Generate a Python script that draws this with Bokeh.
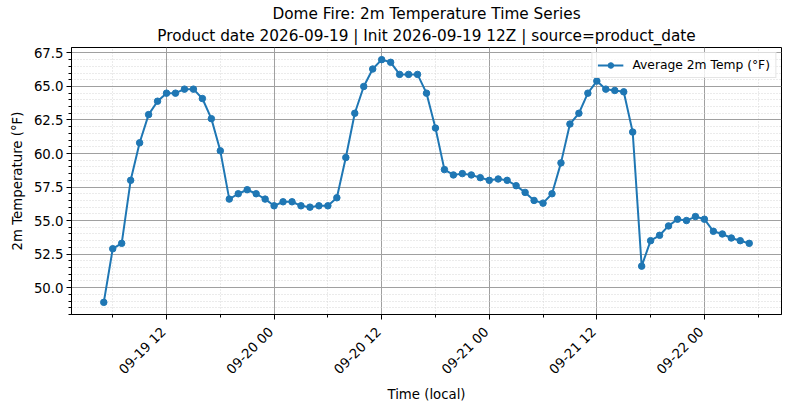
import math
import pandas as pd
from bokeh.plotting import figure
from bokeh.models import (ColumnDataSource, Range1d, FixedTicker, SingleIntervalTicker,
                          DatetimeTickFormatter, NumeralTickFormatter, Legend, LegendItem, Title)
from bokeh.embed import file_html
from bokeh.resources import INLINE

# hourly series, local time
start = "2026-09-19 05:00"
temps = [48.9, 52.9, 53.3, 58.0, 60.8, 62.9, 63.9, 64.5, 64.5, 64.8, 64.8, 64.1,
         62.6, 60.2, 56.6, 57.0, 57.3, 57.0, 56.6, 56.1, 56.4, 56.4, 56.1, 56.0,
         56.1, 56.1, 56.7, 59.7, 63.0, 65.0, 66.3, 67.0, 66.8, 65.9, 65.9, 65.9,
         64.5, 61.9, 58.8, 58.4, 58.5, 58.4, 58.2, 58.0, 58.1, 58.0, 57.6, 57.1,
         56.5, 56.3, 57.0, 59.3, 62.2, 63.0, 64.5, 65.4, 64.8, 64.7, 64.6, 61.6,
         51.6, 53.5, 53.9, 54.6, 55.1, 55.0, 55.3, 55.1, 54.2, 54.0, 53.7, 53.5,
         53.3]
times = pd.date_range(start, periods=len(temps), freq="h")

major_ticks = pd.date_range("2026-09-19 12:00", "2026-09-22 00:00", freq="12h")
minor_ticks = pd.date_range("2026-09-19 06:00", "2026-09-22 06:00", freq="6h")

title_lines = ["Dome Fire: 2m Temperature Time Series",
               "Product date 2026-09-19 | Init 2026-09-19 12Z | source=product_date"]
series_label = "Average 2m Temp (°F)"
color = "#1f77b4"
FONT = "DejaVu Sans"

src = ColumnDataSource(dict(t=times, v=temps))

xpad = (times[-1] - times[0]) * 0.05
ypad = (max(temps) - min(temps)) * 0.05

p = figure(
    width=782, height=405,
    x_axis_type="datetime",
    x_range=Range1d(times[0] - xpad, times[-1] + xpad),
    y_range=Range1d(min(temps) - ypad, max(temps) + ypad),
    output_backend="svg", toolbar_location=None, title=None,
    min_border_left=71, min_border_right=1, min_border_top=47, min_border_bottom=89,
)

# two centred title lines; the one added last sits on top
for txt, standoff in [(title_lines[1], 6), (title_lines[0], -3)]:
    p.add_layout(Title(text=txt, align="center", text_font=FONT, text_font_size="15.3px",
                       text_font_style="normal", text_color="black", standoff=standoff,
                       offset=0), "above")

r_line = p.line("t", "v", source=src, color=color, line_width=2)
r_pts = p.scatter("t", "v", source=src, size=6.5, color=color)

def ms(ts):
    return [t.timestamp() * 1000 for t in ts]

p.xaxis.ticker = FixedTicker(ticks=ms(major_ticks), minor_ticks=ms(minor_ticks))
fmt = "%m-%d %H\u00a0"
p.xaxis.formatter = DatetimeTickFormatter(hours=fmt, hourmin=fmt, days=fmt,
                                          months=fmt, minutes=fmt, minsec=fmt)
p.xaxis.major_label_orientation = math.pi / 4
p.yaxis.ticker = SingleIntervalTicker(interval=2.5, num_minor_ticks=5)
p.yaxis.formatter = NumeralTickFormatter(format="0.0")

p.xaxis.axis_label = "Time (local)"
p.yaxis.axis_label = "2m Temperature (°F)"

for ax in p.xaxis + p.yaxis:
    ax.axis_label_text_font = FONT
    ax.axis_label_text_font_size = "13.3px"
    ax.axis_label_text_font_style = "normal"
    ax.major_label_text_font = FONT
    ax.major_label_text_font_size = "13.3px"
    ax.major_label_text_color = "black"
    ax.axis_label_text_color = "black"
    ax.axis_line_color = "black"
    ax.major_tick_line_color = "black"
    ax.minor_tick_line_color = "black"
    ax.major_tick_out = 5
    ax.major_tick_in = 0
    ax.minor_tick_out = 3
    ax.minor_tick_in = 0
    ax.major_label_standoff = 3
    ax.axis_label_standoff = 6

p.xaxis.major_label_standoff = 7
p.xaxis.axis_label_standoff = 2

p.outline_line_color = "black"
p.outline_line_alpha = 1

p.xgrid.ticker = p.xaxis.ticker
p.grid.grid_line_color = "#a0a0a0"
p.grid.grid_line_width = 1
p.grid.minor_grid_line_color = "#d6d6d6"
p.grid.minor_grid_line_dash = "1 2"
p.grid.minor_grid_line_width = 1

legend = Legend(items=[LegendItem(label=series_label, renderers=[r_line, r_pts])],
                location="top_right")
legend.label_text_font = FONT
legend.label_text_font_size = "12.3px"
legend.label_text_color = "black"
legend.border_line_color = "#cccccc"
legend.background_fill_alpha = 0.8
legend.margin = 5
legend.padding = 5
legend.glyph_width = 26
legend.glyph_height = 14
legend.label_height = 14
legend.label_standoff = 9
p.add_layout(legend)

open("out.html", "w").write(file_html(p, INLINE))
